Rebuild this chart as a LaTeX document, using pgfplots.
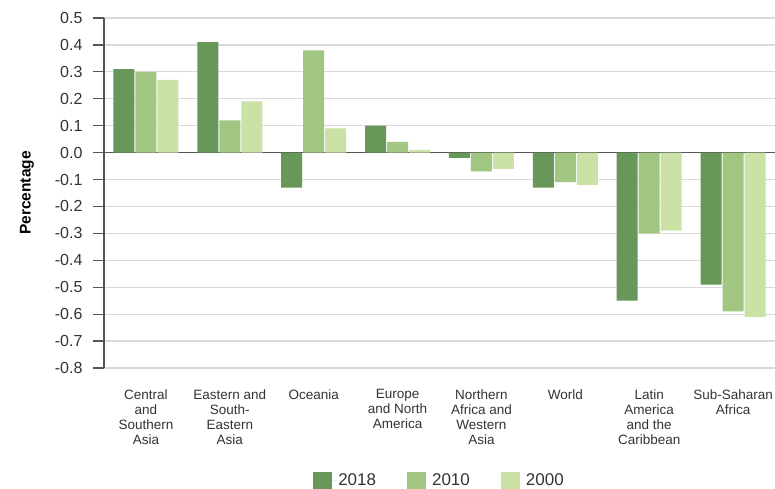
\documentclass[border=0pt]{standalone}
\usepackage{fontspec}
\setmainfont{Liberation Sans}
\usepackage{pgfplots}
\usepackage{pgfplotstable}
\pgfplotsset{compat=1.18}
\definecolor{c2018}{HTML}{68975A}
\definecolor{c2010}{HTML}{A1C681}
\definecolor{c2000}{HTML}{CBE2A7}
\definecolor{axisgray}{HTML}{555555}
\definecolor{gridgray}{HTML}{DADADA}
\definecolor{txt}{HTML}{333333}
\pgfplotstableread{
x y
0 0.31
1 0.41
2 -0.13
3 0.10
4 -0.02
5 -0.13
6 -0.55
7 -0.49
}\datatwentyeighteen
\pgfplotstableread{
x y
0 0.30
1 0.12
2 0.38
3 0.04
4 -0.07
5 -0.11
6 -0.30
7 -0.59
}\datatwentyten
\pgfplotstableread{
x y
0 0.27
1 0.19
2 0.09
3 0.01
4 -0.06
5 -0.12
6 -0.29
7 -0.61
}\datatwothousand
\begin{document}
\begin{tikzpicture}
\useasboundingbox (0,0) rectangle (775pt,489pt);
\begin{axis}[
  at={(104pt,121pt)}, anchor=south west,
  width=671pt, height=350pt, scale only axis,
  ybar=1pt, bar width=21pt,
  xmin=-0.5, xmax=7.5,
  ymin=-0.8, ymax=0.5,
  axis x line*=bottom, axis y line*=left,
  x axis line style={draw=none},
  y axis line style={-, draw=axisgray, line width=1.4pt},
  xtick={0,1,2,3,4,5,6,7},
  xticklabels={{Central\\and\\Southern\\Asia},{Eastern and\\South-\\Eastern\\Asia},{Oceania},{Europe\\and North\\America},{Northern\\Africa and\\Western\\Asia},{World},{Latin\\America\\and the\\Caribbean},{Sub-Saharan\\Africa}},
  xtick style={draw=none},
  xticklabel style={align=center, font=\fontsize{13.5}{15}\selectfont, text=txt, yshift=-7pt},
  ytick={-0.8,-0.7,-0.6,-0.5,-0.4,-0.3,-0.2,-0.1,0,0.1,0.2,0.3,0.4,0.5},
  tick align=outside, major tick length=11pt,
  ytick style={draw=axisgray, line width=1.2pt},
  yticklabel style={font=\fontsize{16}{18}\selectfont, text=txt, xshift=-7pt,
    /pgf/number format/.cd, fixed, fixed zerofill, precision=1, assume math mode=true},
  ymajorgrids, grid style={gridgray, line width=1.2pt},
  extra y ticks={0}, extra y tick labels={},
  extra y tick style={grid style={axisgray, line width=1.5pt}},
  ylabel={Percentage},
  ylabel style={at={(rel axis cs:0,0.5)}, yshift=77pt, anchor=center, font=\fontsize{15.5}{18}\selectfont\bfseries, text=black},
  legend columns=3,
  legend style={at={(0.5,0)}, anchor=center, yshift=-112pt, draw=none, fill=none,
    font=\fontsize{17}{20}\selectfont, text=txt,
    /tikz/every even column/.append style={column sep=29pt}},
  legend image code/.code={\fill[#1] (0pt,-8.5pt) rectangle (19pt,8.5pt); \path (0pt,0pt) -- (23pt,0pt);},
]
\addplot[draw=none, fill=c2018] table[x=x,y=y] {\datatwentyeighteen};
\addplot[draw=none, fill=c2010] table[x=x,y=y] {\datatwentyten};
\addplot[draw=none, fill=c2000] table[x=x,y=y] {\datatwothousand};
\legend{2018,2010,2000}
\end{axis}
\end{tikzpicture}
\end{document}
